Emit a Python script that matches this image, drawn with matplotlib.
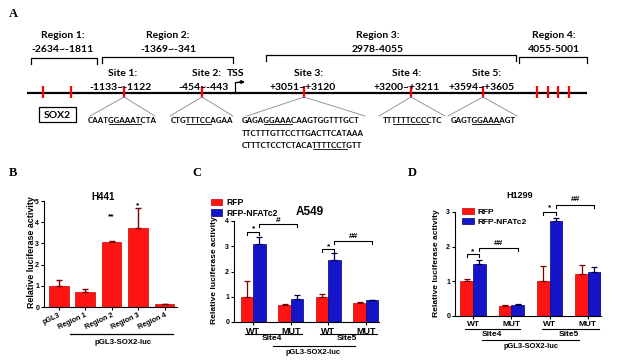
import matplotlib
matplotlib.use('Agg')
import matplotlib.pyplot as plt
import matplotlib.transforms as mtransforms
from matplotlib.patches import Rectangle
import numpy as np

# ---------------- data ----------------
region_names = ['Region 1:', 'Region 2:', 'Region 3:', 'Region 4:']
region_ranges = ['-2634~-1811', '-1369~-341', '2978-4055', '4055-5001']

site_names = ['Site 1:', 'Site 2:', 'Site 3:', 'Site 4:', 'Site 5:']
site_ranges = ['-1133~-1122', '-454~-443', '+3051~+3120', '+3200~+3211', '+3594~+3605']
site_seqs = [
    ['CAATGGAAATCTA'],
    ['CTGTTTCCAGAA'],
    ['GAGAGGAAACAAGTGGTTTGCT', 'TTCTTTGTTCCTTGACTTCATAAA', 'CTTTCTCCTCTACATTTTCCTGTT'],
    ['TTTTTTCCCCTC'],
    ['GAGTGGAAAAGT'],
]
site_motifs = [
    [(4, 10)],
    [(3, 8)],
    [(4, 9), None, (14, 21)],
    [(2, 9)],
    [(4, 9)],
]

b_labels = ['pGL3', 'Region 1', 'Region 2', 'Region 3', 'Region 4']
b_vals = [1.00, 0.72, 3.07, 3.75, 0.12]
b_err = [0.28, 0.11, 0.05, 0.93, 0.03]
b_stars = ['', '', '**', '*', '']
b_star_y = [0, 0, 4.26, 4.80, 0]

pair_labels = ['WT', 'MUT', 'WT', 'MUT']
site_groups = ['Site4', 'Site5']

c_rfp = [1.00, 0.68, 1.00, 0.77]
c_rfp_err = [0.62, 0.04, 0.10, 0.03]
c_nfat = [3.10, 0.90, 2.47, 0.87]
c_nfat_err = [0.28, 0.15, 0.25, 0.01]
# (group_left, bar_left, group_right, bar_right, bracket_y, label, label_y)
c_sig = [(0, 0, 0, 1, 3.56, '*', 3.68), (0, 1, 1, 1, 3.88, '#', 4.00),
         (2, 0, 2, 1, 2.89, '*', 3.00), (2, 1, 3, 1, 3.21, '##', 3.37)]

d_rfp = [1.02, 0.30, 1.02, 1.20]
d_rfp_err = [0.05, 0.01, 0.41, 0.27]
d_nfat = [1.50, 0.33, 2.73, 1.27]
d_nfat_err = [0.12, 0.02, 0.10, 0.15]
d_sig = [(0, 0, 0, 1, 1.79, '*', 1.84), (0, 1, 1, 1, 1.96, '##', 2.10),
         (2, 0, 2, 1, 3.00, '*', 3.11), (2, 1, 3, 1, 3.20, '##', 3.35)]

RED, RED_EDGE, RED_ERR = '#ff1414', '#d00000', '#7a0000'
BLUE, BLUE_EDGE, BLUE_ERR = '#1414c8', '#000080', '#000040'

plt.rcParams['font.family'] = 'Liberation Sans'
plt.rcParams['font.weight'] = 'bold'
plt.rcParams['axes.linewidth'] = 0.8

W, H = 617, 362
fig = plt.figure(figsize=(W / 100, H / 100), dpi=100)
ov = fig.add_axes([0, 0, 1, 1])
ov.set_xlim(0, W)
ov.set_ylim(H, 0)
ov.axis('off')
ov.set_zorder(5)
renderer = fig.canvas.get_renderer()


def px_rect(left, top, right, bottom):
    return [left / W, 1 - bottom / H, (right - left) / W, (bottom - top) / H]


# ---------------- panel A ----------------
AFONT = dict(family='Lato', weight='bold')
SEQ_FS = 5.7

for lab, xy in zip('ABCD', [(13, 14), (13, 173), (197, 173), (412, 173)]):
    ov.text(*xy, lab, family='Liberation Serif', weight='bold', fontsize=9,
            ha='center', va='center')

ov.plot([27, 587], [93, 93], color='k', lw=1.6, solid_capstyle='butt')

region_x = [63, 168, 378, 554]
region_br = [(31, 97, 58), (102, 233, 57), (266, 516, 55), (519, 587, 57)]
for name, rng, x, (x0, x1, yb) in zip(region_names, region_ranges, region_x, region_br):
    ov.text(x, 35, name, fontsize=7.5, ha='center', va='center', **AFONT)
    ov.text(x, 50, rng, fontsize=7.5, ha='center', va='center', **AFONT)
    ov.plot([x0, x0, x1, x1], [yb + 6, yb, yb, yb + 6], color='k', lw=0.9)

# extra (non-site) red marks
for x in [43, 71, 537, 548, 558, 569]:
    ov.plot([x, x], [86, 98], color='#ff0000', lw=1.6, solid_capstyle='butt')

# TSS arrow
ov.plot([235, 235, 240], [93, 82, 82], color='k', lw=0.9)
ov.annotate('', xy=(245, 82), xytext=(239, 82),
            arrowprops=dict(arrowstyle='-|>', color='k', lw=0.9,
                            mutation_scale=5, shrinkA=0, shrinkB=0))
ov.text(236, 73, 'TSS', fontsize=7.5, ha='center', va='center', **AFONT)

# SOX2 box
ov.add_patch(Rectangle((39, 107), 37, 15, fill=False, ec='k', lw=0.9))
ov.text(57.5, 115, 'SOX2', fontsize=7.5, ha='center', va='center', family='Lato')


def text_width(s):
    if not s:
        return 0
    t = ov.text(0, 0, s, fontsize=SEQ_FS, **AFONT)
    w = t.get_window_extent(renderer).width
    t.remove()
    return w


def seq_text(x, y, s, motif, ha='center'):
    total = text_width(s)
    x0 = x - total / 2 if ha == 'center' else x
    ov.text(x0, y, s, fontsize=SEQ_FS, ha='left', va='baseline', **AFONT)
    if motif is not None:
        xa = x0 + text_width(s[:motif[0]])
        xb = x0 + text_width(s[:motif[1]])
        ov.plot([xa, xb], [y + 1.4, y + 1.4], color='k', lw=0.6)


site_x = [124, 202, 304, 411, 483]
site_name_x = [123, 207, 308, 407, 486]
site_rng_x = [121, 204, 303, 407, 482]
fan = [(90, 155), (170, 233), (247, 365), (379, 445), (448, 517)]
seq_x = [122, 202, 242, 413, 483]
for i in range(5):
    ov.text(site_name_x[i], 74, site_names[i], fontsize=7.5, ha='center', va='center', **AFONT)
    ov.text(site_rng_x[i], 87, site_ranges[i], fontsize=7.5, ha='center', va='center', **AFONT)
    ov.plot([site_x[i], site_x[i]], [86, 98], color='#ff0000', lw=1.6, solid_capstyle='butt')
    ov.plot([fan[i][0], site_x[i], fan[i][1]], [116, 97, 116], color='#888888', lw=0.6)
    for k, (s, m) in enumerate(zip(site_seqs[i], site_motifs[i])):
        seq_text(seq_x[i], 123 + 12.5 * k, s, m, ha='left' if i == 2 else 'center')


def style_axes(ax, ylim, yticks, xlim):
    ax.set_ylim(*ylim)
    ax.set_yticks(yticks)
    ax.set_xlim(*xlim)
    ax.spines['top'].set_visible(False)
    ax.spines['right'].set_visible(False)
    ax.patch.set_alpha(0)
    ax.tick_params(axis='y', labelsize=5, width=0.8, length=2.5, pad=1)
    ax.tick_params(axis='x', width=0.8, length=2.5, pad=1)


# ---------------- panel B ----------------
axb = fig.add_axes(px_rect(44, 201, 177, 307))
xb = np.arange(len(b_labels))
axb.bar(xb, b_vals, width=0.75, color=RED, edgecolor=RED_EDGE, lw=0.5, zorder=2)
axb.errorbar(xb, b_vals, yerr=[np.zeros(len(b_err)), b_err], fmt='none', ecolor=RED_ERR,
             elinewidth=1, capsize=2.5, capthick=1, zorder=3)
style_axes(axb, (0, 5), range(6), (-0.55, 4.47))
axb.set_xticks(xb)
axb.set_xticklabels(b_labels, rotation=25, ha='right', rotation_mode='anchor',
                    fontsize=5.2, fontweight='bold')
for x, s, y in zip(xb, b_stars, b_star_y):
    if s:
        axb.text(x, y, s, fontsize=6, ha='center', va='center')
tb = mtransforms.blended_transform_factory(axb.transData, ov.transData)
ov.plot([0.43, 4.32], [334, 334], color='k', lw=0.9, transform=tb)
ov.text(2.43, 343, 'pGL3-SOX2-luc', fontsize=5.6, ha='center', va='center', transform=tb)
ov.text(103, 197, 'H441', fontsize=7, ha='center', va='center')
ov.text(32, 252, 'Relative luciferase activity', fontsize=6.4, rotation=90,
        ha='center', va='center')


# ---------------- panels C and D ----------------
def pair_panel(rect, rfp, rfp_err, nfat, nfat_err, sig, ylim, yticks, xlim, xfs):
    ax = fig.add_axes(rect)
    x = np.arange(len(rfp))
    w = 0.33
    h1 = ax.bar(x - w / 2, rfp, w, color=RED, edgecolor=RED_EDGE, lw=0.5, zorder=2)
    h2 = ax.bar(x + w / 2, nfat, w, color=BLUE, edgecolor=BLUE_EDGE, lw=0.5, zorder=2)
    ax.errorbar(x - w / 2, rfp, yerr=[np.zeros(len(rfp)), rfp_err], fmt='none',
                ecolor=RED_ERR, elinewidth=0.9, capsize=2.2, capthick=0.9, zorder=3)
    ax.errorbar(x + w / 2, nfat, yerr=[np.zeros(len(nfat)), nfat_err], fmt='none',
                ecolor=BLUE_ERR, elinewidth=0.9, capsize=2.2, capthick=0.9, zorder=3)
    style_axes(ax, ylim, yticks, xlim)
    ax.set_xticks(x)
    ax.set_xticklabels(pair_labels, fontsize=xfs, fontweight='bold')
    drop = (ylim[1] - ylim[0]) * 0.03
    for g0, b0, g1, b1, y, s, ys in sig:
        xa = g0 - w / 2 + b0 * w
        xc = g1 - w / 2 + b1 * w
        ax.plot([xa, xa, xc, xc], [y - drop, y, y, y - drop], color='k', lw=0.8,
                clip_on=False)
        ax.text((xa + xc) / 2, ys, s, fontsize=6, ha='center', va='center')
    return ax, h1, h2


axc, hc1, hc2 = pair_panel(px_rect(234, 221, 379, 322), c_rfp, c_rfp_err, c_nfat,
                           c_nfat_err, c_sig, (0, 4), range(5), (-0.51, 3.35), 6.5)
tc = mtransforms.blended_transform_factory(axc.transData, ov.transData)
for (x0, x1), xm, name in zip([(-0.23, 1.29), (1.77, 3.29)], [0.5, 2.5], site_groups):
    ov.plot([x0, x1], [334, 334], color='k', lw=0.8, transform=tc)
    ov.text(xm, 339, name, fontsize=6, ha='center', va='center', transform=tc)
ov.plot([0.52, 2.71], [346, 346], color='k', lw=0.8, transform=tc)
ov.text(1.59, 352, 'pGL3-SOX2-luc', fontsize=5.4, ha='center', va='center', transform=tc)
ov.text(310, 212, 'A549', fontsize=8.5, ha='center', va='center')
ov.text(214, 270, 'Relative luciferase activity', fontsize=6.1, rotation=90,
        ha='center', va='center')
axc.legend([hc1, hc2], ['RFP', 'RFP-NFATc2'], loc='upper left',
           bbox_to_anchor=(211, 198), bbox_transform=ov.transData, frameon=False,
           fontsize=6.2, handlelength=1.3, handleheight=0.8, handletextpad=0.5,
           labelspacing=0.2, borderpad=0, borderaxespad=0)

axd, hd1, hd2 = pair_panel(px_rect(455, 212, 601, 316), d_rfp, d_rfp_err, d_nfat,
                           d_nfat_err, d_sig, (0, 3), range(4), (-0.47, 3.34), 6)
td = mtransforms.blended_transform_factory(axd.transData, ov.transData)
for (x0, x1), xm, name in zip([(-0.21, 1.23), (1.80, 3.29)], [0.5, 2.5], site_groups):
    ov.plot([x0, x1], [329, 329], color='k', lw=0.8, transform=td)
    ov.text(xm, 335, name, fontsize=6, ha='center', va='center', transform=td)
ov.plot([0.23, 2.77], [340, 340], color='k', lw=0.8, transform=td)
ov.text(1.51, 346, 'pGL3-SOX2-luc', fontsize=5.4, ha='center', va='center', transform=td)
ov.text(520, 195, 'H1299', fontsize=6.5, ha='center', va='center')
ov.text(436, 263, 'Relative luciferase activity', fontsize=6.1, rotation=90,
        ha='center', va='center')
axd.legend([hd1, hd2], ['RFP', 'RFP-NFATc2'], loc='upper left',
           bbox_to_anchor=(462, 208), bbox_transform=ov.transData, frameon=False,
           fontsize=6, handlelength=1.4, handleheight=0.8, handletextpad=0.5,
           labelspacing=0.2, borderpad=0, borderaxespad=0)

fig.savefig('out.png', dpi=100)
